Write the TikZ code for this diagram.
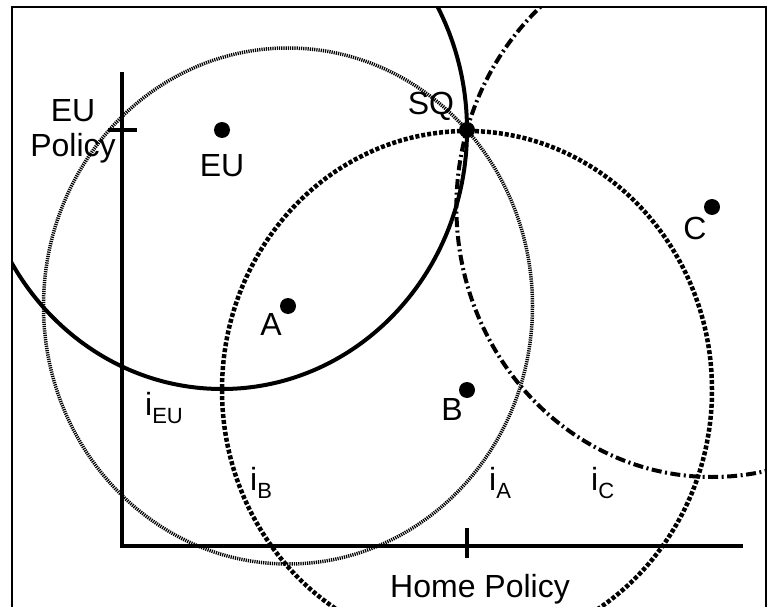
\documentclass[tikz,border=0pt]{standalone}
\usepackage{fontspec}
\setmainfont{Liberation Sans}

\newcommand{\isub}[1]{i\raisebox{-8pt}{\fontsize{22}{22}\selectfont #1}}

\begin{document}
\begin{tikzpicture}[x=1pt, y=-1pt,
  every node/.style={font=\fontsize{32}{35}\selectfont, inner sep=0pt},
  dot/.style={circle, fill, minimum size=16pt},
  lbl/.style={anchor=base},
  axis/.style={line width=3.5pt},
  indiffEU/.style={line width=4pt},
  indiffA/.style={line width=3.5pt, dash pattern=on 1.2pt off 1pt},
  indiffB/.style={line width=4.5pt, dash pattern=on 4pt off 2pt},
  indiffC/.style={line width=4pt, dash pattern=on 10pt off 3.5pt on 2pt off 3.5pt}]
  \useasboundingbox (0,0) rectangle (769,607);
  \draw[line width=1.8pt] (12,7) rectangle (766,620);

  \coordinate (eu) at (222,130);
  \coordinate (a) at (288,306);
  \coordinate (b) at (467,390);
  \coordinate (c) at (712,207);
  \coordinate (sq) at (467,130);

  \begin{scope}
    \clip (12,7) rectangle (766,607);
    \draw[indiffEU] (eu) ellipse [x radius=245pt, y radius=259pt];
    \draw[indiffA] (a) ellipse [x radius=244.5pt, y radius=258pt];
    \draw[indiffB] (b) ellipse [x radius=245pt, y radius=259pt];
    \draw[indiffC] (c) ellipse [x radius=255.6pt, y radius=270pt];
  \end{scope}

  \draw[axis] (122,72) -- (122,546) -- (743,546);
  \draw[axis] (108,130) -- (137,130);
  \draw[axis] (467,528) -- (467,558);

  \node[dot] (euPt) at (eu) {};
  \node[dot] (aPt) at (a) {};
  \node[dot] (bPt) at (b) {};
  \node[dot] (cPt) at (c) {};
  \node[dot] (sqPt) at (sq) {};

  \node[lbl] (euLbl) at (222,177) {EU};
  \node[lbl] (aLbl) at (271,335) {A};
  \node[lbl] (bLbl) at (452,420) {B};
  \node[lbl] (cLbl) at (695,240) {C};
  \node[lbl] (sqLbl) at (431,115) {SQ};

  \node[anchor=base west] (iEU) at (145,415) {\isub{EU}};
  \node[anchor=base west] (iB) at (250,490) {\isub{B}};
  \node[anchor=base west] (iA) at (489,490) {\isub{A}};
  \node[anchor=base west] (iC) at (591,490) {\isub{C}};

  \node[lbl, align=center] (yLbl) at (73,157) {EU\\Policy};
  \node[lbl] (xLbl) at (480,597) {Home Policy};
\end{tikzpicture}
\end{document}
